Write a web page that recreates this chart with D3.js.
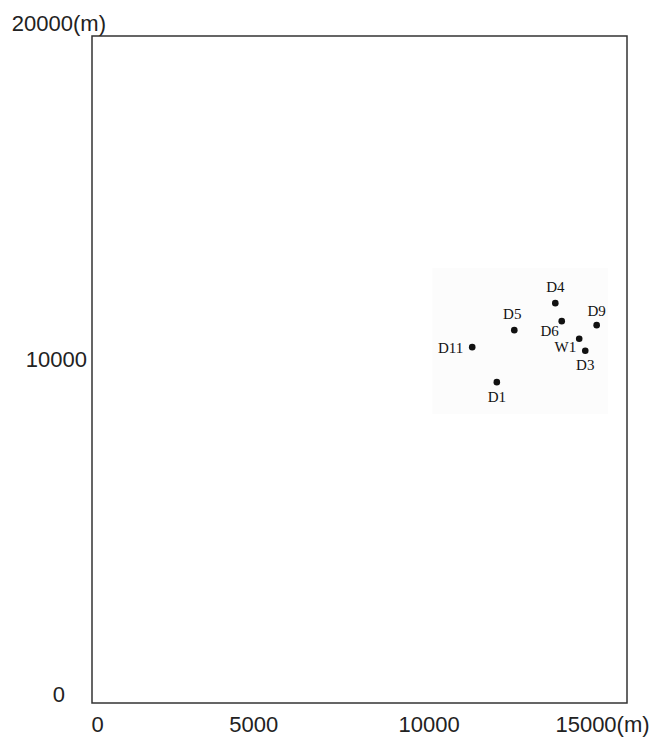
<!DOCTYPE html>
<html>
<head>
<meta charset="utf-8">
<script src="https://cdn.jsdelivr.net/npm/d3@7"></script>
<style>
  html, body { margin: 0; padding: 0; background: #fff; }
  svg { display: block; }
</style>
</head>
<body>
<svg id="chart" width="654" height="750"></svg>
<script>
// Well locations (metres, local grid)
const wellNames = ["D4", "D6", "D5", "D9", "W1", "D3", "D11", "D1"];
const wellX = [12990, 13170, 11840, 14150, 13660, 13830, 10660, 11350];
const wellY = [11990, 11450, 11180, 11330, 10920, 10560, 10670, 9620];

// Axis ticks
const xTicks = [0, 5000, 10000, 15000];
const xTickLabels = ["0", "5000", "10000", "15000(m)"];
const yTicks = [0, 10000, 20000];
const yTickLabels = ["0", "10000", "20000(m)"];

const svg = d3.select("#chart");
const frame = { left: 92, right: 627, top: 36, bottom: 703 };

const x = d3.scaleLinear().domain([0, 15000]).range([frame.left, frame.right]);
const y = d3.scaleLinear().domain([0, 20000]).range([frame.bottom, frame.top]);

// Faint backdrop behind the well cluster
svg.append("rect")
  .attr("x", x(9540)).attr("y", y(13040))
  .attr("width", x(14470) - x(9540))
  .attr("height", y(8670) - y(13040))
  .attr("fill", "#fcfcfc");

// Plot frame
svg.append("rect")
  .attr("x", frame.left).attr("y", frame.top)
  .attr("width", frame.right - frame.left)
  .attr("height", frame.bottom - frame.top)
  .attr("fill", "none")
  .attr("stroke", "#333")
  .attr("stroke-width", 1.5);

const axisFont = "'Liberation Sans', Arial, Helvetica, sans-serif";

// X axis labels
const xAxis = d3.axisBottom(x)
  .tickValues(xTicks)
  .tickSize(0)
  .tickFormat((d, i) => xTickLabels[i]);
const gx = svg.append("g")
  .attr("transform", `translate(0,${frame.bottom})`)
  .call(xAxis);
gx.select(".domain").remove();
const xShift = [5, -17, -20, -25];
gx.selectAll(".tick text")
  .attr("font-family", axisFont)
  .attr("font-size", 22)
  .attr("fill", "#222")
  .attr("y", 0)
  .attr("dy", 29)
  .attr("dx", (d, i) => xShift[i]);

// Y axis labels
const yAxis = d3.axisLeft(y)
  .tickValues(yTicks)
  .tickSize(0)
  .tickFormat((d, i) => yTickLabels[i]);
const gy = svg.append("g")
  .attr("transform", `translate(${frame.left},0)`)
  .call(yAxis);
gy.select(".domain").remove();
const yRight = [65, 87, 106];
const yShift = [-10, -11, -14];
gy.selectAll(".tick text")
  .attr("font-family", axisFont)
  .attr("font-size", 22)
  .attr("fill", "#222")
  .attr("text-anchor", "end")
  .attr("x", (d, i) => yRight[i] - frame.left)
  .attr("dy", (d, i) => (yShift[i] + 8) + "px");

// Wells
const wells = wellNames.map((name, i) => ({ name, x: wellX[i], y: wellY[i] }));

svg.append("g").selectAll("circle")
  .data(wells)
  .join("circle")
  .attr("cx", d => x(d.x))
  .attr("cy", d => y(d.y))
  .attr("r", 3.3)
  .attr("fill", "#111");

// Label placement around each well marker
const place = {
  D4:  { anchor: "middle", dx: 0,   dy: -11 },
  D5:  { anchor: "middle", dx: -2,  dy: -11 },
  D9:  { anchor: "middle", dx: 0,   dy: -9 },
  D6:  { anchor: "end",    dx: -3,  dy: 15 },
  W1:  { anchor: "end",    dx: -3,  dy: 13 },
  D3:  { anchor: "middle", dx: 0,   dy: 19 },
  D11: { anchor: "end",    dx: -9,  dy: 6 },
  D1:  { anchor: "middle", dx: 0,   dy: 20 }
};

svg.append("g").selectAll("text")
  .data(wells)
  .join("text")
  .attr("x", d => x(d.x) + place[d.name].dx)
  .attr("y", d => y(d.y) + place[d.name].dy)
  .attr("text-anchor", d => place[d.name].anchor)
  .attr("font-family", "'Liberation Serif', 'DejaVu Serif', serif")
  .attr("font-size", 15)
  .attr("fill", "#111")
  .text(d => d.name);
</script>
</body>
</html>
